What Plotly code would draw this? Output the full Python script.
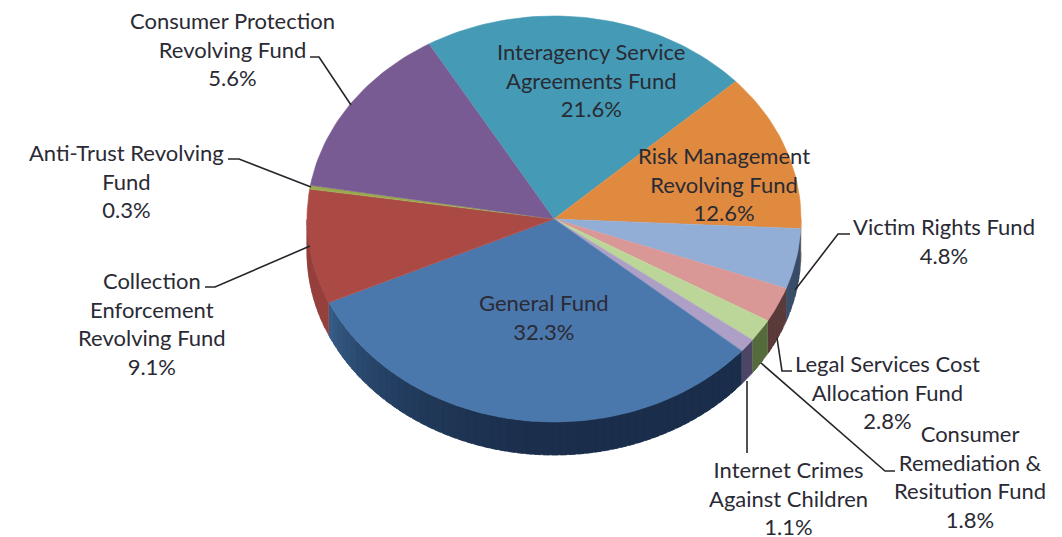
import math
import plotly.graph_objects as go

categories = ["Interagency Service Agreements Fund", "Risk Management Revolving Fund", "Victim Rights Fund",
              "Legal Services Cost Allocation Fund", "Consumer Remediation & Resitution Fund",
              "Internet Crimes Against Children", "General Fund", "Collection Enforcement Revolving Fund",
              "Anti-Trust Revolving Fund", "Consumer Protection Revolving Fund"]
# share of the circle as drawn in the picture
drawn_share = [21.6, 12.6, 4.8, 2.8, 1.8, 1.1, 32.0, 9.1, 0.3, 13.9]
top_colors = ["#459bb5", "#e08a40", "#92aed6", "#d99796", "#bcd699", "#ad9fc6", "#4a78ad", "#ab4a45", "#9aa84e", "#785b92"]
side_left = ["#2f6b7d", "#9c5f2c", "#3f5470", "#5b3a3a", "#566b3c", "#4d4565", "#3a6390", "#96403d", "#6b7536", "#523f66"]
side_right = ["#2f6b7d", "#9c5f2c", "#3a4d68", "#5b3a3a", "#566b3c", "#4d4565", "#1a2d4a", "#96403d", "#6b7536", "#523f66"]

labels = [
    ("Interagency Service<br>Agreements Fund<br>21.6%", 591, 80),
    ("Risk Management<br>Revolving Fund<br>12.6%", 724, 184),
    ("Victim Rights Fund<br>4.8%", 944, 241),
    ("Legal Services Cost<br>Allocation Fund<br>2.8%", 887, 392),
    ("Consumer<br>Remediation &<br>Resitution Fund<br>1.8%", 970, 476),
    ("Internet Crimes<br>Against Children<br>1.1%", 788, 498),
    ("General Fund<br>32.3%", 544, 317),
    ("Collection<br>Enforcement<br>Revolving Fund<br>9.1%", 152, 323),
    ("Anti-Trust Revolving<br>Fund<br>0.3%", 126, 181),
    ("Consumer Protection<br>Revolving Fund<br>5.6%", 232, 49),
]
leaders = [
    [(310, 57), (319, 57), (351, 105)],
    [(228, 159), (239, 159), (311, 187)],
    [(205, 287), (215, 287), (310, 246)],
    [(850, 234), (838, 234), (795, 290)],
    [(792, 371), (782, 371), (777, 338)],
    [(895, 471), (885, 471), (761, 363)],
    [(747, 381), (747, 453)],
]

CX, CY, RX, RY, DEPTH = 554, 219, 247, 203, 33
START = -30.4
FONT = dict(family="Lato, Carlito, sans-serif", size=22, color="#2a2a34")


def pt(a, drop=0):
    r = math.radians(a)
    return CX + RX * math.sin(r), CY - RY * math.cos(r) + drop


def mix(c1, c2, t):
    a = [int(c1[i:i + 2], 16) for i in (1, 3, 5)]
    b = [int(c2[i:i + 2], 16) for i in (1, 3, 5)]
    return "#%02x%02x%02x" % tuple(round(x + (y - x) * t) for x, y in zip(a, b))


def poly(fig, pts, color):
    fig.add_trace(go.Scatter(x=[p[0] for p in pts], y=[p[1] for p in pts], mode="lines", fill="toself",
                             fillcolor=color, line=dict(color=color, width=0.6), hoverinfo="skip", showlegend=False))


fig = go.Figure()
total = sum(drawn_share)
spans = []
a = START
for v in drawn_share:
    spans.append((a, a + v / total * 360))
    a += v / total * 360

# side wall (front half only), painted from the far left towards the right so pieces overlap
for i, (s, e) in enumerate(spans):
    lo, hi = max(s, 90), min(e, 270)
    if hi <= lo:
        continue
    n = max(1, int((hi - lo) / 2))
    for k in reversed(range(n)):
        a0 = lo + (hi - lo) * k / n
        a1 = min(hi, lo + (hi - lo) * (k + 1) / n + 1.5)
        arc = [a0 + (a1 - a0) * j / 5 for j in range(6)]
        col = mix(side_right[i], side_left[i], (k / n) ** 4 if n > 1 else 0)
        poly(fig, [pt(x) for x in arc] + [pt(x, DEPTH) for x in reversed(arc)], col)

# top face
for i, (s, e) in enumerate(spans):
    n = max(4, int((e - s) / 1.5))
    arc = [s + (e - s) * j / n for j in range(n + 1)]
    poly(fig, [(CX, CY)] + [pt(x) for x in arc], top_colors[i])

for line in leaders:
    fig.add_trace(go.Scatter(x=[p[0] for p in line], y=[p[1] for p in line], mode="lines",
                             line=dict(color="#25252b", width=1.6), hoverinfo="skip", showlegend=False))

for text, x, y in labels:
    fig.add_annotation(x=x, y=y, text=text, showarrow=False, xanchor="center", yanchor="middle", align="center", font=FONT)

fig.update_layout(width=1062, height=537, margin=dict(l=0, r=0, t=0, b=0), paper_bgcolor="white", plot_bgcolor="white",
                  xaxis=dict(range=[0, 1062], visible=False, fixedrange=True),
                  yaxis=dict(range=[537, 0], visible=False, fixedrange=True), showlegend=False)
fig.write_html("out.html", config=dict(displayModeBar=False),
               post_script="document.body.style.margin='0';document.documentElement.style.overflow='hidden';")
